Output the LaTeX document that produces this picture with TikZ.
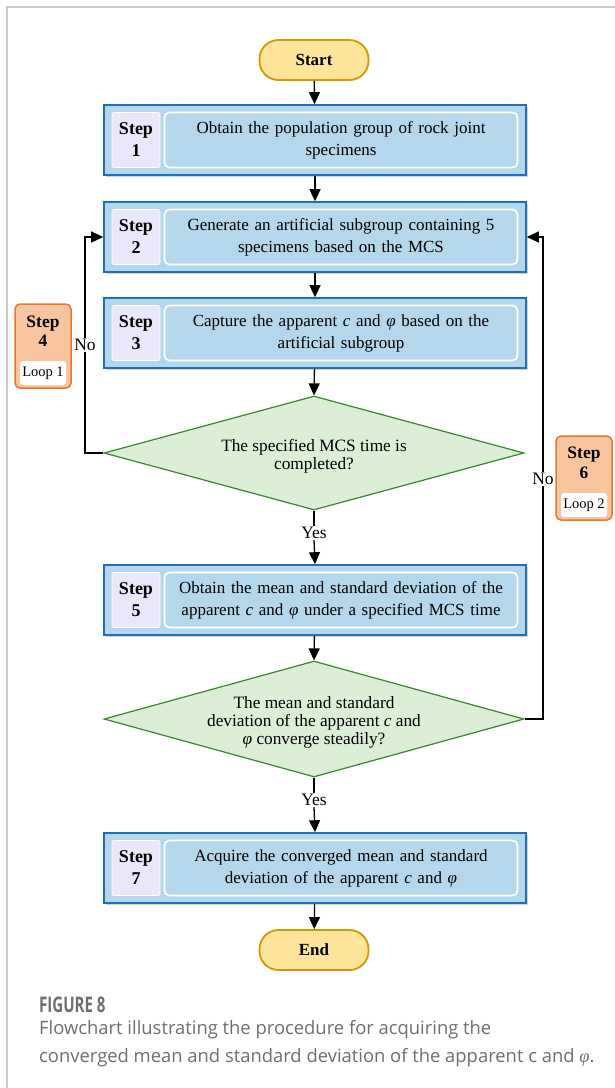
\documentclass[tikz,border=0pt]{standalone}
\usepackage{fontspec}
\setmainfont{Liberation Serif}
\newfontfamily\capfont{Open Sans}
\usetikzlibrary{shapes.geometric,arrows.meta,shadows}
\definecolor{boxfill}{RGB}{180,215,235}
\definecolor{boxline}{RGB}{30,112,185}
\definecolor{lav}{RGB}{232,232,250}
\definecolor{diafill}{RGB}{221,238,215}
\definecolor{dialine}{RGB}{56,135,45}
\definecolor{termfill}{RGB}{255,229,153}
\definecolor{termline}{RGB}{214,152,0}
\definecolor{orfill}{RGB}{249,196,160}
\definecolor{orline}{RGB}{237,118,40}
\definecolor{framegray}{RGB}{200,200,200}
\definecolor{capgray}{RGB}{110,110,110}
\tikzset{
  outerbox/.style={draw=boxline, line width=1.6pt, fill=boxfill, minimum width=422pt, minimum height=70pt,
    drop shadow={shadow xshift=1.5pt, shadow yshift=-1.5pt, opacity=0.35}},
  steplab/.style={fill=lav, draw=white, line width=0.8pt, rounded corners=2pt, minimum width=48pt,
    minimum height=55pt, inner sep=0pt, align=center, font=\fontsize{18}{22}\selectfont\bfseries},
  innerbox/.style={fill=boxfill, draw=white, line width=1.6pt, rounded corners=5pt, minimum width=353pt,
    minimum height=55pt, text width=345pt, inner sep=2pt, align=center, font=\fontsize{17}{22}\selectfont},
  dia/.style={diamond, draw=dialine, line width=1.2pt, fill=diafill, inner sep=0pt},
  diatext/.style={align=center, font=\fontsize{17.3}{18}\selectfont},
  term/.style={draw=termline, fill=termfill, line width=1.8pt, rounded corners=19pt, minimum width=109pt,
    minimum height=40pt, font=\fontsize{17}{20}\selectfont\bfseries},
  orbox/.style={draw=orline, fill=orfill, line width=1.5pt, rounded corners=5pt, minimum width=56pt, minimum height=84pt},
  orlab/.style={align=center, font=\fontsize{17.5}{19.5}\selectfont\bfseries, inner sep=0pt},
  loopbox/.style={fill=white, rounded corners=3pt, minimum width=46pt, minimum height=24pt, inner sep=0pt,
    font=\fontsize{14.5}{16}\selectfont},
  arr/.style={line width=1.3pt, -{Triangle[length=12pt,width=11pt]}},
  ln/.style={line width=1.3pt},
  lbl/.style={fill=white, inner sep=1pt, font=\fontsize{17.5}{19}\selectfont},
}
\begin{document}
\begin{tikzpicture}[x=1pt,y=-1pt]
\useasboundingbox (0,0) rectangle (615,1088);
\draw[framegray, line width=1.5pt] (7,1088) -- (7,7) -- (615,7);

% terminals
\node[term] (start) at (314,60) {Start};
\node[term] (end) at (314,950) {End};

% step boxes
\node[outerbox] (s1) at (315,140) {};
\node[steplab] (s1l) at (136,140) {Step\\1};
\node[innerbox] (s1t) at (341,140) {Obtain the population group of rock joint\\specimens};

\node[outerbox] (s2) at (315,237) {};
\node[steplab] (s2l) at (136,237) {Step\\2};
\node[innerbox] (s2t) at (341,237) {Generate an artificial subgroup containing 5\\specimens based on the MCS};

\node[outerbox] (s3) at (315,333) {};
\node[steplab] (s3l) at (136,333) {Step\\3};
\node[innerbox] (s3t) at (341,333) {Capture the apparent \textit{c} and \textit{φ} based on the\\artificial subgroup};

\node[outerbox] (s5) at (315,600) {};
\node[steplab] (s5l) at (136,600) {Step\\5};
\node[innerbox] (s5t) at (341,600) {Obtain the mean and standard deviation of the\\apparent \textit{c} and \textit{φ} under a specified MCS time};

\node[outerbox] (s7) at (315,868) {};
\node[steplab] (s7l) at (136,868) {Step\\7};
\node[innerbox] (s7t) at (341,868) {Acquire the converged mean and standard\\deviation of the apparent \textit{c} and \textit{φ}};

% decisions
\node[dia, minimum width=420pt, minimum height=114pt] (d1) at (314,453) {};
\node[diatext] (d1t) at (314,456) {The specified MCS time is\\completed?};
\node[dia, minimum width=420pt, minimum height=116pt] (d2) at (314,719) {};
\node[diatext] (d2t) at (314,722) {The mean and standard\\deviation of the apparent \textit{c} and\\\textit{φ} converge steadily?};

% loop boxes
\node[orbox] (o4) at (43,346) {};
\node[orlab] (o4l) at (43,331) {Step\\4};
\node[loopbox] (o4b) at (43,373) {Loop 1};
\node[orbox] (o6) at (584,478) {};
\node[orlab] (o6l) at (584,463) {Step\\6};
\node[loopbox] (o6b) at (584,505) {Loop 2};

% connectors
\draw[arr] (start) -- (s1);
\draw[arr] (s1) -- (s2);
\draw[arr] (s2) -- (s3);
\draw[arr] (s3) -- (d1.north);
\node[lbl] (y1) at (314,533) {Yes};
\draw[ln] (d1.south) -- (y1.north);
\draw[arr] (y1.south) -- (s5.north);
\draw[arr] (s5) -- (d2.north);
\node[lbl] (y2) at (314,800) {Yes};
\draw[ln] (d2.south) -- (y2.north);
\draw[arr] (y2.south) -- (s7.north);
\draw[arr] (s7) -- (end);

\coordinate (c1) at (85,453);
\draw[arr] (d1.west) -- (c1) |- (s2.west);
\node[lbl] (n1) at (85,345) {No};
\coordinate (c2) at (543,719);
\draw[arr] (d2.east) -- (c2) |- (s2.east);
\node[lbl] (n2) at (543,479) {No};

% caption
\node[anchor=west, inner sep=0pt, text=capgray, font=\capfont\bfseries\fontsize{21.5}{24}\selectfont] (fig) at (39,1005) {\scalebox{0.7}[1]{FIGURE 8}};
\node[anchor=north west, inner sep=0pt, text=capgray, align=left, font=\capfont\fontsize{18.4}{28}\selectfont] (cap) at (39,1020)
  {Flowchart illustrating the procedure for acquiring the\\converged mean and standard deviation of the apparent c and {\rmfamily\itshape φ}.};
\end{tikzpicture}
\end{document}
